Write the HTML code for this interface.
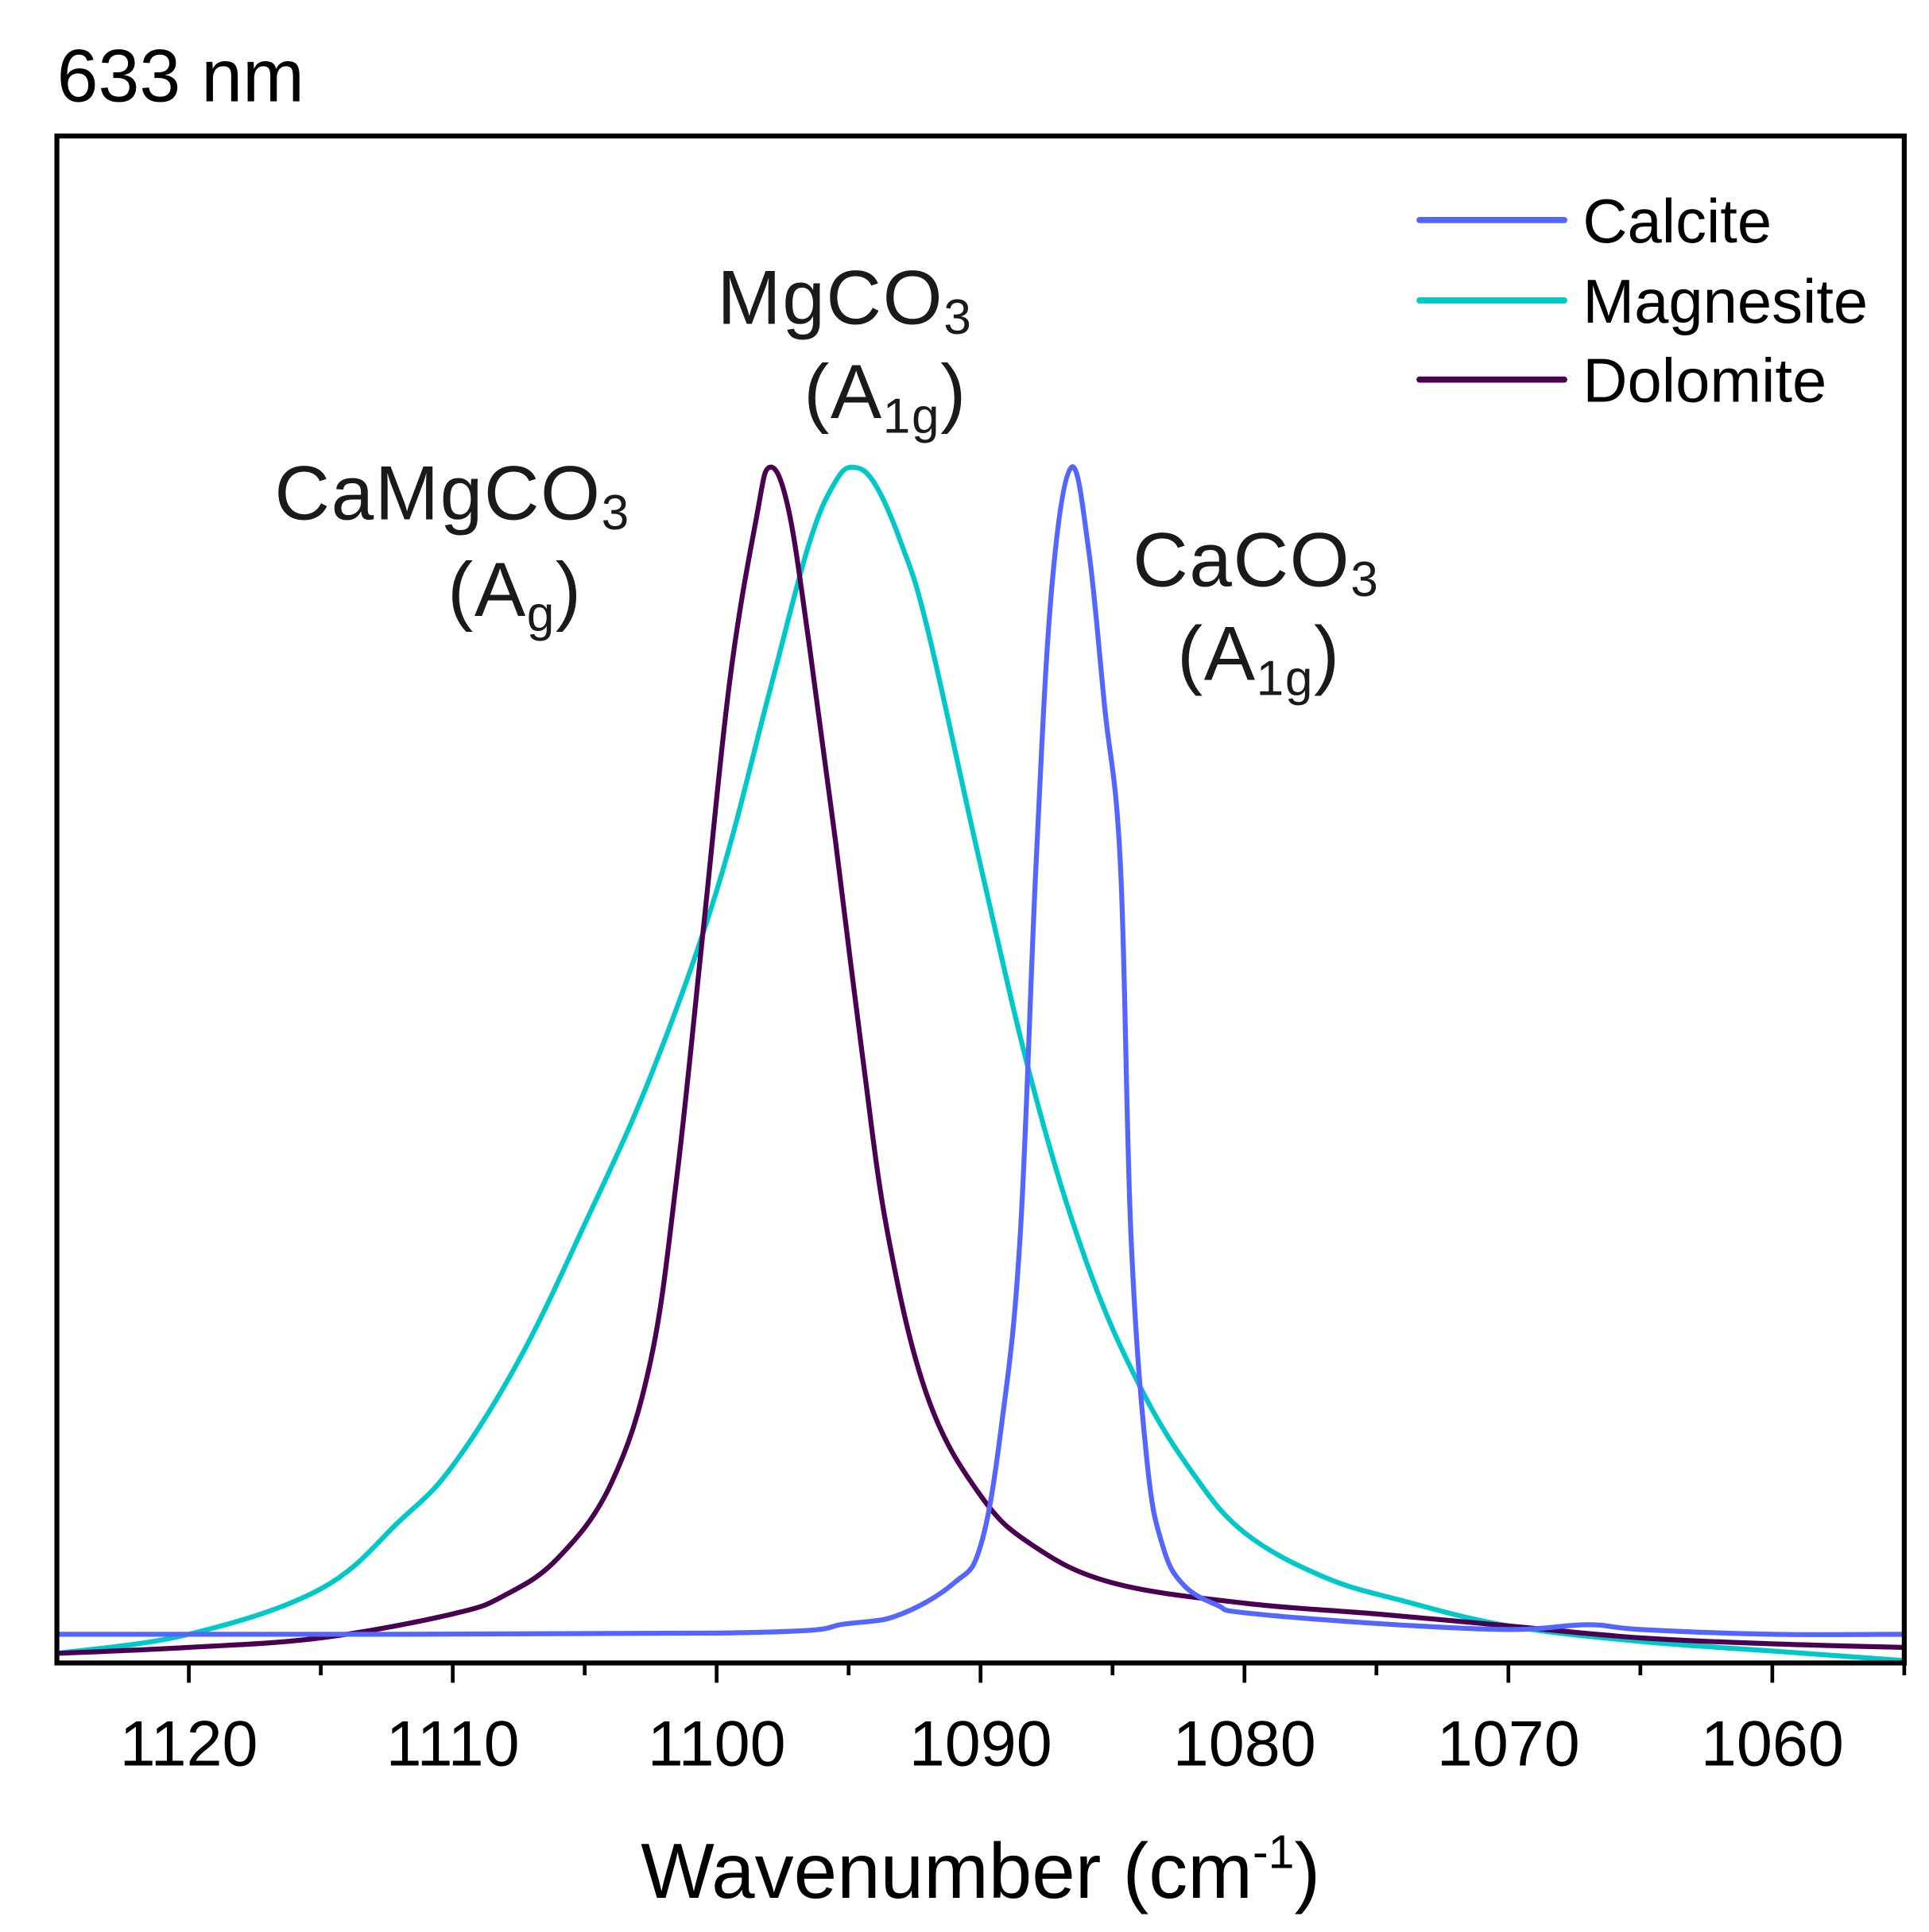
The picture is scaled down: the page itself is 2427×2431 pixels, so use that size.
<!DOCTYPE html>
<html><head><meta charset="utf-8"><style>
html,body{margin:0;padding:0;background:#fff;}
svg{display:block;}
text{font-family:"Liberation Sans",sans-serif;}
.ann{font-family:"Liberation Sans",sans-serif;fill:#1a1a1a;letter-spacing:1px;}
</style></head><body>
<svg id="chart" width="2427" height="2431" viewBox="0 0 1560 1562.6" preserveAspectRatio="none" xmlns="http://www.w3.org/2000/svg">
<text x="46" y="82" font-size="60">633 nm</text>
<g id="plot"></g>
<rect x="46" y="110" width="1494" height="1235" fill="none" stroke="#000" stroke-width="4"/>
<g id="xticks"></g>
<text x="793" y="1535" font-size="63" text-anchor="middle">Wavenumber (cm<tspan dy="-24" font-size="38">-1</tspan><tspan dy="24">)</tspan></text>
<g>
<text class="ann" x="580" y="262" font-size="62">MgCO<tspan font-size="40" dy="8">3</tspan></text>
<text class="ann" x="650" y="338" font-size="62">(A<tspan font-size="40" dy="12">1g</tspan><tspan dy="-12">)</tspan></text>
</g>
<g>
<text class="ann" x="222" y="420" font-size="62">CaMgCO<tspan font-size="40" dy="8">3</tspan></text>
<text class="ann" x="362" y="498" font-size="62">(A<tspan font-size="40" dy="12">g</tspan><tspan dy="-12">)</tspan></text>
</g>
<g>
<text class="ann" x="916" y="474" font-size="62">CaCO<tspan font-size="40" dy="8">3</tspan></text>
<text class="ann" x="952" y="550" font-size="62">(A<tspan font-size="40" dy="12">1g</tspan><tspan dy="-12">)</tspan></text>
</g>
<g>
<line x1="1148" y1="178" x2="1265" y2="178" stroke="#5566ff" stroke-width="5" stroke-linecap="round"/>
<text x="1280" y="196" font-size="50">Calcite</text>
<line x1="1148" y1="243" x2="1265" y2="243" stroke="#00c8c8" stroke-width="5" stroke-linecap="round"/>
<text x="1280" y="261" font-size="50">Magnesite</text>
<line x1="1148" y1="307" x2="1265" y2="307" stroke="#4a0050" stroke-width="5" stroke-linecap="round"/>
<text x="1280" y="325" font-size="50">Dolomite</text>
</g>
</svg>
<script>
const calciteX=[1125,1100,1095,1093,1091,1090,1089.2,1088.5,1087.9,1087.3,1086.56,1085.9,1085.3,1084.7,1084.3,1083.7,1083.1,1082.3,1081,1080,1075,1070,1067,1065,1060,1055];
const calciteY=[0.024,0.025,0.033,0.041,0.067,0.098,0.2,0.357,0.667,0.9,1.0,0.93,0.8,0.667,0.357,0.17,0.098,0.065,0.048,0.042,0.033,0.028,0.032,0.028,0.024,0.024];
const magnesiteX=[1125,1120,1115,1112,1110,1107.5,1105,1102.5,1100,1098,1096.5,1095.5,1094.8,1094,1093,1092,1090,1088,1086,1084,1082,1080,1077,1074,1070,1065,1060,1055];
const magnesiteY=[0.008,0.024,0.062,0.119,0.165,0.253,0.367,0.491,0.646,0.812,0.936,0.988,1.0,0.986,0.936,0.864,0.667,0.481,0.336,0.233,0.16,0.109,0.072,0.052,0.031,0.018,0.010,0.002];
const dolomiteX=[1125,1120,1115,1110,1108,1106,1104,1102.5,1101.5,1100.5,1099.5,1098.5,1098,1097.3,1096.5,1095.5,1094.5,1093.5,1092,1090,1088,1085,1080,1075,1070,1065,1060,1055];
const dolomiteY=[0.008,0.013,0.021,0.041,0.057,0.088,0.15,0.253,0.408,0.615,0.822,0.957,1.0,0.967,0.853,0.688,0.512,0.357,0.222,0.14,0.098,0.067,0.05,0.041,0.031,0.021,0.016,0.013];
const tickValues=[1120,1110,1100,1090,1080,1070,1060];
const tickLabels=["1120","1110","1100","1090","1080","1070","1060"];
const minorTicks=[1115,1105,1095,1085,1075,1065,1055];
const NS="http://www.w3.org/2000/svg";
const L=46,R=1540,T=110,B=1345,xMin=1125,xMax=1055;
function sx(w){return L+(xMin-w)/(xMin-xMax)*(R-L);}
function sy(v){return 1345-v*967;}
const plot=document.getElementById('plot');
function series(xs,ys,color,name){
  const pts=xs.map((x,i)=>[sx(x),sy(ys[i])]);
  let d='M'+pts[0][0].toFixed(2)+' '+pts[0][1].toFixed(2);
  for(let i=0;i<pts.length-1;i++){
    const p0=pts[Math.max(i-1,0)],p1=pts[i],p2=pts[i+1],p3=pts[Math.min(i+2,pts.length-1)];
    const t=0.18;
    const c1=[p1[0]+(p2[0]-p0[0])*t,p1[1]+(p2[1]-p0[1])*t];
    const c2=[p2[0]-(p3[0]-p1[0])*t,p2[1]-(p3[1]-p1[1])*t];
    d+='C'+c1[0].toFixed(2)+' '+c1[1].toFixed(2)+' '+c2[0].toFixed(2)+' '+c2[1].toFixed(2)+' '+p2[0].toFixed(2)+' '+p2[1].toFixed(2);
  }
  const p=document.createElementNS(NS,'path');
  p.setAttribute('d',d);p.setAttribute('fill','none');p.setAttribute('stroke',color);
  p.setAttribute('stroke-width','4');p.setAttribute('stroke-linejoin','round');
  
  
  plot.appendChild(p);
}
series(magnesiteX,magnesiteY,'#00c8c8','magnesite-line');
series(dolomiteX,dolomiteY,'#4a0050','dolomite-line');
series(calciteX,calciteY,'#5566ff','calcite-line');
const xt=document.getElementById('xticks');
tickValues.forEach((v,i)=>{
  const l=document.createElementNS(NS,'line');
  l.setAttribute('x1',sx(v));l.setAttribute('x2',sx(v));l.setAttribute('y1',B);l.setAttribute('y2',B+16);
  l.setAttribute('stroke','#000');l.setAttribute('stroke-width','3');
  
  
  xt.appendChild(l);
  const t=document.createElementNS(NS,'text');
  t.setAttribute('x',sx(v));t.setAttribute('y',1428);t.setAttribute('text-anchor','middle');t.setAttribute('font-size','52');
  t.textContent=tickLabels[i];
  
  
  xt.appendChild(t);
});
minorTicks.forEach(v=>{
  const l=document.createElementNS(NS,'line');
  l.setAttribute('x1',sx(v));l.setAttribute('x2',sx(v));l.setAttribute('y1',B);l.setAttribute('y2',B+10);
  l.setAttribute('stroke','#000');l.setAttribute('stroke-width','3');
  
  
  xt.appendChild(l);
});
</script>
</body></html>
